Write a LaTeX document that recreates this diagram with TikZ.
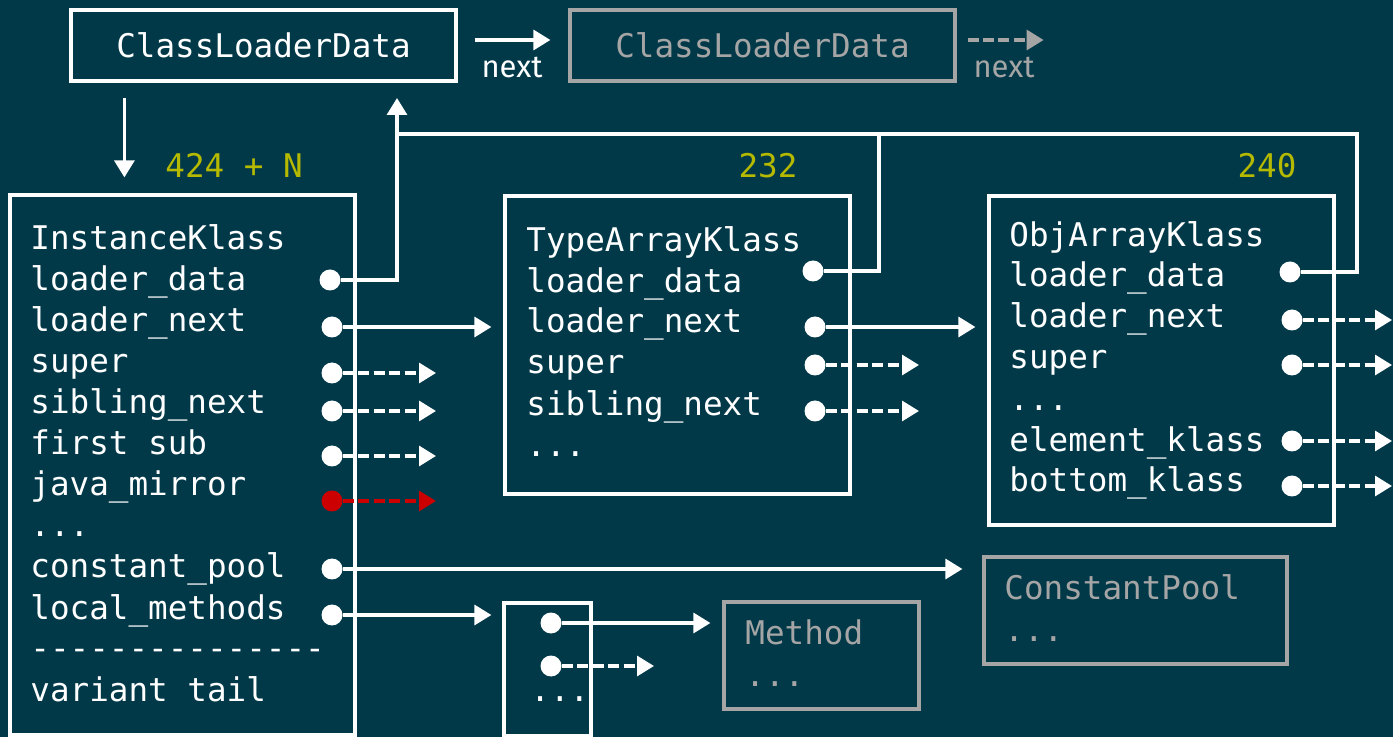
\documentclass[tikz,border=0pt]{standalone}
\usepackage{fontspec}
\usetikzlibrary{arrows.meta}
\newfontfamily\monof{DejaVu Sans Mono}
\newfontfamily\labf{Fira Sans}
\definecolor{bg}{RGB}{1,57,73}
\definecolor{ylw}{RGB}{181,186,0}
\definecolor{gry}{RGB}{165,165,165}
\definecolor{rd}{RGB}{204,0,0}
\newcommand\hy{-\kern0pt}
\begin{document}
\begin{tikzpicture}[x=0.5pt,y=-0.5pt,
 box/.style={draw=white, line width=1.6pt, inner sep=0pt, rectangle},
 gbox/.style={box, draw=gry},
 mono/.style={font=\monof\fontsize{16.3}{19}\selectfont, text=white, anchor=base west, inner sep=0pt},
 gmono/.style={mono, text=gry},
 num/.style={mono, text=ylw},
 lbl/.style={font=\labf\fontsize{15.5}{18}\selectfont, text=white, anchor=base, inner sep=0pt},
 pdot/.style={circle, fill=white, minimum size=10.5pt, inner sep=0pt},
 wire/.style={line width=1.6pt, draw=white},
 ptr/.style={wire, -{Triangle[length=8.5pt,width=10pt]}},
 dptr/.style={ptr, dash pattern=on 5.5pt off 2.2pt},
]
\fill[bg] (0,0) rectangle (1393,737);
\useasboundingbox (0,0) rectangle (1393,737);

% top boxes
\node[box, minimum width=192.5pt, minimum height=35.5pt, font=\monof\fontsize{16.3}{19}\selectfont, text=white] (cld) at (263.5,45.5) {ClassLoaderData};
\node[gbox, minimum width=192.5pt, minimum height=35.5pt, font=\monof\fontsize{16.3}{19}\selectfont, text=gry] (cld2) at (762.5,45.5) {ClassLoaderData};
\draw[ptr, shorten <=8.5pt, shorten >=9pt] ([yshift=2.75pt]cld.east) -- ([yshift=2.75pt]cld2.west);
\node[lbl] (nx1) at (512,78) {next};
\draw[dptr, draw=gry, -{Triangle[length=8.5pt,width=10pt,fill=gry]}] ([yshift=2.75pt,xshift=5.5pt]cld2.east) -- ++(76,0);
\node[lbl, text=gry] (nx2) at (1004,78) {next};

% main boxes
\node[box, minimum width=172.5pt, minimum height=270pt] (ik) at (182.5,465) {};
\node[box, minimum width=172.5pt, minimum height=149pt] (tak) at (677.5,345) {};
\node[box, minimum width=172.5pt, minimum height=164.5pt] (oak) at (1161.5,360.5) {};
\node[box, minimum width=43.5pt, minimum height=66.5pt] (mb) at (547.5,669.5) {};
\node[gbox, minimum width=97.5pt, minimum height=53.5pt] (meth) at (821.5,655.5) {};
\node[gbox, minimum width=151.5pt, minimum height=53.5pt] (cp) at (1135.5,610.5) {};

% size labels
\node[num] (s1) at (165,178) {424 + N};
\node[num, anchor=base] (s2) at (768,178) {232};
\node[num, anchor=base] (s3) at (1267,178) {240};

% InstanceKlass text
\node[mono] (ik1) at (30,250) {InstanceKlass};
\node[mono] (ik2) at (30,291) {loader\_data};
\node[mono] (ik3) at (30,332) {loader\_next};
\node[mono] (ik4) at (30,373) {super};
\node[mono] (ik5) at (30,414) {sibling\_next};
\node[mono] (ik6) at (30,455) {first sub};
\node[mono] (ik7) at (30,496) {java\_mirror};
\node[mono] (ik8) at (30,537) {...};
\node[mono] (ik9) at (30,578) {constant\_pool};
\node[mono] (ik10) at (30,619) {local\_methods};
\node[mono] (ik11) at (30,660) {\hy\hy\hy\hy\hy\hy\hy\hy\hy\hy\hy\hy\hy\hy\hy};
\node[mono] (ik12) at (30,701) {variant tail};

% TypeArrayKlass text
\node[mono] (ta1) at (526,252) {TypeArrayKlass};
\node[mono] (ta2) at (526,293) {loader\_data};
\node[mono] (ta3) at (526,333) {loader\_next};
\node[mono] (ta4) at (526,374) {super};
\node[mono] (ta5) at (526,416) {sibling\_next};
\node[mono] (ta6) at (526,457) {...};

% ObjArrayKlass text
\node[mono] (oa1) at (1009,247) {ObjArrayKlass};
\node[mono] (oa2) at (1009,287) {loader\_data};
\node[mono] (oa3) at (1009,328) {loader\_next};
\node[mono] (oa4) at (1009,369) {super};
\node[mono] (oa5) at (1009,411) {...};
\node[mono] (oa6) at (1009,452) {element\_klass};
\node[mono] (oa7) at (1009,492) {bottom\_klass};

% small boxes text
\node[mono] (mb1) at (530,701) {...};
\node[gmono] (me1) at (745,644) {Method};
\node[gmono] (me2) at (745,686) {...};
\node[gmono] (cp1) at (1004,599) {ConstantPool};
\node[gmono] (cp2) at (1004,641) {...};

% dots
\node[pdot] (ikld) at (330,280) {};
\node[pdot] (ikln) at (332,327) {};
\node[pdot] (iksu) at (332,373) {};
\node[pdot] (iksn) at (332,411) {};
\node[pdot] (ikfs) at (332,456) {};
\node[pdot, fill=rd] (ikjm) at (332,501) {};
\node[pdot] (ikcp) at (332,569) {};
\node[pdot] (iklm) at (332,615) {};
\node[pdot] (tald) at (813,271) {};
\node[pdot] (taln) at (815,327) {};
\node[pdot] (tasu) at (815,365) {};
\node[pdot] (tasn) at (815,411) {};
\node[pdot] (oald) at (1290,272) {};
\node[pdot] (oaln) at (1292,320) {};
\node[pdot] (oasu) at (1292,365) {};
\node[pdot] (oaek) at (1292,441) {};
\node[pdot] (oabk) at (1292,486) {};
\node[pdot] (mbd1) at (551,623) {};
\node[pdot] (mbd2) at (551,666) {};

% connectors
\coordinate (up) at (397,98);
\coordinate (busL) at (397,134);
\coordinate (busR) at (1357,134);
\coordinate (busM) at (879,134);
\draw[ptr, shorten <=7.5pt, shorten >=8pt] ([xshift=27.5pt]cld.south west) -- ([xshift=58pt]ik.north west);
\draw[ptr] (ikld) -| (up);
\draw[wire] (tald) -| (busM);
\draw[wire] (oald) -| (busR) -- (busL);
\draw[ptr, shorten >=6pt] (ikln) -- (tak.west |- ikln);
\draw[ptr, shorten >=6pt] (taln) -- (oak.west |- taln);
\draw[ptr, shorten >=10pt] (ikcp) -- (cp.west |- ikcp);
\draw[ptr, shorten >=5.5pt] (iklm) -- (mb.west |- iklm);
\draw[ptr, shorten >=6pt] (mbd1) -- (meth.west |- mbd1);
\draw[dptr] (iksu) -- ++(104,0);
\draw[dptr] (iksn) -- ++(104,0);
\draw[dptr] (ikfs) -- ++(104,0);
\draw[dptr, draw=rd, -{Triangle[length=8.5pt,width=10pt,fill=rd]}] (ikjm) -- ++(104,0);
\draw[dptr] (tasu) -- ++(104,0);
\draw[dptr] (tasn) -- ++(104,0);
\draw[dptr] (oaln) -- ++(100,0);
\draw[dptr] (oasu) -- ++(100,0);
\draw[dptr] (oaek) -- ++(100,0);
\draw[dptr] (oabk) -- ++(100,0);
\draw[dptr] (mbd2) -- ++(103,0);
\end{tikzpicture}
\end{document}
